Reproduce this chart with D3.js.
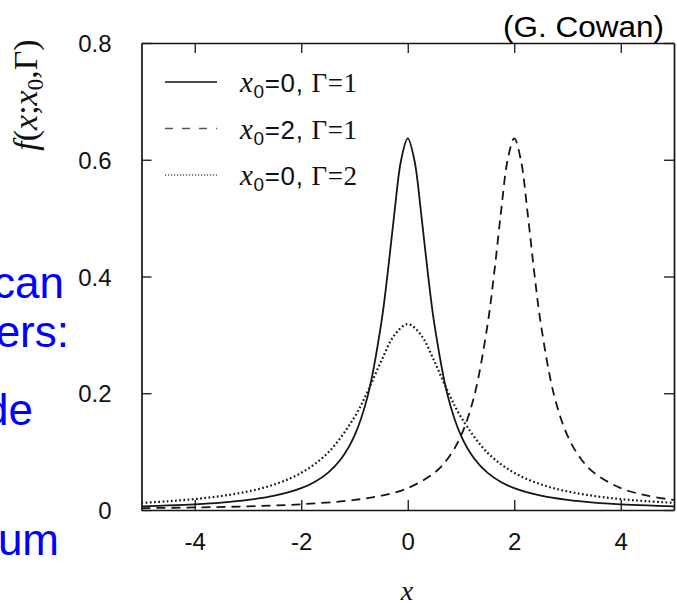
<!DOCTYPE html>
<html><head><meta charset="utf-8">
<script src="https://cdn.jsdelivr.net/npm/d3@7"></script>
<style>html,body{margin:0;padding:0;background:#fff;}svg{display:block;}</style>
</head><body>
<svg id="c" width="677" height="603"></svg>
<script>
// ---- data ----
const xTicks = [-4, -2, 0, 2, 4];
const yTicks = [0, 0.2, 0.4, 0.6, 0.8];
const yTickLabels = ["0", "0.2", "0.4", "0.6", "0.8"];
const xTickLabels = ["-4", "-2", "0", "2", "4"];

// x0=0, Gamma=1 (solid)
const solidX = [-5,-4.5,-4,-3.5,-3,-2.5,-2,-1.75,-1.5,-1.25,-1,-0.75,-0.5,-0.375,-0.25,-0.125,0,0.125,0.25,0.375,0.5,0.75,1,1.25,1.5,1.75,2,2.5,3,3.5,4,4.5,5];
const solidY = [0.0063,0.0078,0.0098,0.0127,0.0172,0.0245,0.0375,0.0481,0.0637,0.0878,0.1273,0.1959,0.3183,0.4074,0.5093,0.5992,0.6366,0.5992,0.5093,0.4074,0.3183,0.1959,0.1273,0.0878,0.0637,0.0481,0.0375,0.0245,0.0172,0.0127,0.0098,0.0078,0.0063];

// x0=2, Gamma=1 (dashed)
const dashX = [-5,-4,-3,-2,-1,-0.5,0,0.5,0.75,1,1.25,1.5,1.625,1.75,1.875,2,2.125,2.25,2.375,2.5,2.75,3,3.25,3.5,4,4.5,5];
const dashY = [0.0032,0.0044,0.0063,0.0098,0.0172,0.0245,0.0375,0.0637,0.0878,0.1273,0.1959,0.3183,0.4074,0.5093,0.5992,0.6366,0.5992,0.5093,0.4074,0.3183,0.1959,0.1273,0.0878,0.0637,0.0375,0.0245,0.0172];

// x0=0, Gamma=2 (dotted)
const dotX = [-5,-4.5,-4,-3.5,-3,-2.5,-2,-1.5,-1,-0.75,-0.5,-0.25,0,0.25,0.5,0.75,1,1.5,2,2.5,3,3.5,4,4.5,5];
const dotY = [0.0122,0.0150,0.0187,0.0240,0.0318,0.0439,0.0637,0.0979,0.1592,0.2037,0.2547,0.2996,0.3183,0.2996,0.2547,0.2037,0.1592,0.0979,0.0637,0.0439,0.0318,0.0240,0.0187,0.0150,0.0122];

const seriesNames = ["solid", "dashed", "dotted"];
const legendX0 = ["0", "2", "0"];
const legendGamma = ["1", "1", "2"];

// ---- drawing ----
const svg = d3.select("#c");
const L = 141.5, R = 674, T = 43, B = 510;
const x = d3.scaleLinear().domain([-5, 5]).range([L, R]);
const y = d3.scaleLinear().domain([0, 0.8]).range([B, T]);
const ink = "#151515";

svg.append("defs").append("clipPath").attr("id","clip")
  .append("rect").attr("x",L).attr("y",T).attr("width",R-L).attr("height",B-T);

// axes with inward ticks
const tickLen = 10;
const fmt = (arr, vals) => d => arr[vals.indexOf(d)];
const gB = svg.append("g").attr("transform",`translate(0,${B})`)
  .call(d3.axisBottom(x).tickValues(xTicks).tickSizeInner(-tickLen).tickSizeOuter(0).tickPadding(23).tickFormat(fmt(xTickLabels,xTicks)));
const gT = svg.append("g").attr("transform",`translate(0,${T})`)
  .call(d3.axisTop(x).tickValues(xTicks).tickSizeInner(-tickLen).tickSizeOuter(0).tickFormat(""));
const gL = svg.append("g").attr("transform",`translate(${L},0)`)
  .call(d3.axisLeft(y).tickValues(yTicks).tickSizeInner(-tickLen).tickSizeOuter(0).tickPadding(30).tickFormat(fmt(yTickLabels,yTicks)));
const gR = svg.append("g").attr("transform",`translate(${R},0)`)
  .call(d3.axisRight(y).tickValues(yTicks).tickSizeInner(-tickLen).tickSizeOuter(0).tickFormat(""));
[gB,gT,gL,gR].forEach(g=>{
  g.selectAll("path.domain").attr("stroke",ink).attr("stroke-width",1.7);
  g.selectAll(".tick line").attr("stroke",ink).attr("stroke-width",1.3);
  g.selectAll(".tick text").attr("fill","#111").attr("font-family","Liberation Sans, Arial, sans-serif").attr("font-size",24);
});
gL.selectAll(".tick text").attr("dy","0.36em");
gB.selectAll(".tick text").attr("dy","0.71em");

// curves
const line = d3.line().x(d=>x(d[0])).y(d=>y(d[1])).curve(d3.curveCatmullRom.alpha(0.5));
const plot = svg.append("g").attr("clip-path","url(#clip)");
const styles = [
  {w:1.8, dash:null},
  {w:1.8, dash:"9,6"},
  {w:2.2, dash:"1.7,2.5"}
];
const data = [
  solidX.map((v,i)=>[v,solidY[i]]),
  dashX.map((v,i)=>[v,dashY[i]]),
  dotX.map((v,i)=>[v,dotY[i]])
];
data.forEach((d,i)=>{
  const p = plot.append("path").attr("d",line(d)).attr("fill","none")
    .attr("stroke",ink).attr("stroke-width",styles[i].w);
  if(styles[i].dash) p.attr("stroke-dasharray",styles[i].dash);
});

// legend
const legStyles = [
  {w:1.4, dash:null},
  {w:1.6, dash:"8,9"},
  {w:1.4, dash:"1.2,1.8"}
];
const rowsY = [82, 128.5, 175];
seriesNames.forEach((n,i)=>{
  const ly = rowsY[i];
  const ln = svg.append("line").attr("x1",165).attr("x2",217).attr("y1",ly).attr("y2",ly)
    .attr("stroke", i===0 ? ink : "#555").attr("stroke-width",legStyles[i].w);
  if(legStyles[i].dash) ln.attr("stroke-dasharray",legStyles[i].dash);
  const t = svg.append("text").attr("x",240).attr("y",ly+10).attr("fill","#111")
    .attr("font-size",26).attr("font-family","Liberation Sans, Arial, sans-serif")
    .attr("textLength",117).attr("lengthAdjust","spacing");
  t.append("tspan").attr("font-family","Liberation Serif, Times New Roman, serif").attr("font-style","italic").attr("font-size",29).text("x");
  t.append("tspan").attr("dy",6).attr("font-size",19).text("0");
  t.append("tspan").attr("dy",-6).text("=" + legendX0[i] + ", ");
  t.append("tspan").attr("font-family","Liberation Serif, Times New Roman, serif").attr("font-size",27).text("\u0393=" + legendGamma[i]);
});

// axis titles
const yt = svg.append("text").attr("transform","translate(37,95) rotate(-90)")
  .attr("text-anchor","middle").attr("fill","#111")
  .attr("font-family","Liberation Serif, Times New Roman, serif").attr("font-size",34);
yt.append("tspan").attr("font-style","italic").text("f");
yt.append("tspan").text("(");
yt.append("tspan").attr("font-style","italic").text("x");
yt.append("tspan").text(";");
yt.append("tspan").attr("font-style","italic").text("x");
yt.append("tspan").attr("dy",6).attr("font-size",23).text("0");
yt.append("tspan").attr("dy",-6).text(",\u0393)");

svg.append("text").attr("x",407).attr("y",600).attr("text-anchor","middle")
  .attr("fill","#111").attr("font-family","Liberation Serif, Times New Roman, serif")
  .attr("font-style","italic").attr("font-size",28).text("x");

// credit
svg.append("text").attr("x",503).attr("y",37).attr("fill","#000")
  .attr("font-family","Liberation Sans, Arial, sans-serif").attr("font-size",29)
  .attr("textLength",161).attr("lengthAdjust","spacingAndGlyphs").text("(G. Cowan)");

// overlapping blue slide text fragments
const blueWords = ["can", "ers:", "de", "um"];
const blueRight = [64, 69, 33, 59];
const blueBase = [298, 347, 425, 555];
blueWords.forEach((w,i)=>{
  svg.append("text").attr("x",blueRight[i]).attr("y",blueBase[i]).attr("text-anchor","end")
    .attr("fill","#0000ff").attr("font-family","Liberation Sans, Arial, sans-serif")
    .attr("font-size",44).text(w);
});
</script>
</body></html>
